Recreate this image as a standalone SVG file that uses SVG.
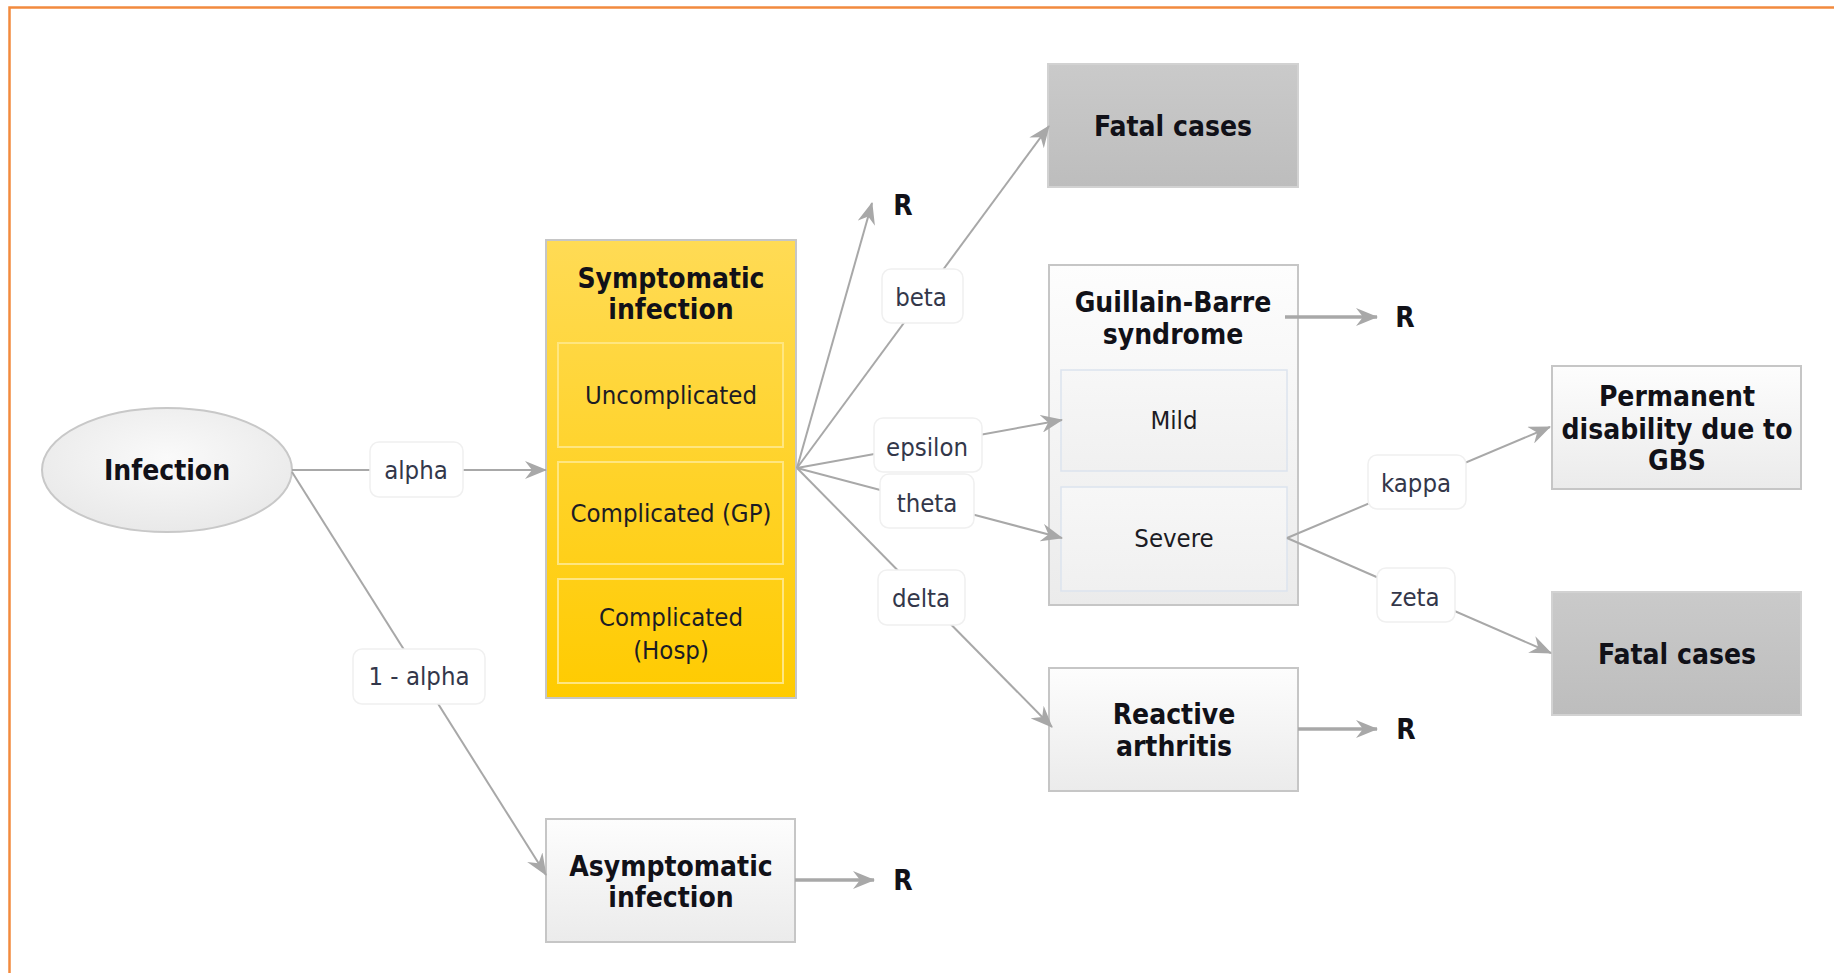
<svg xmlns="http://www.w3.org/2000/svg" width="1834" height="973" viewBox="0 0 1834 973">
  <defs>
    <linearGradient id="gYellow" x1="0" y1="0" x2="0" y2="1">
      <stop offset="0" stop-color="#FFDB55"/>
      <stop offset="1" stop-color="#FFCB00"/>
    </linearGradient>
    <linearGradient id="gLight" x1="0" y1="0" x2="0" y2="1">
      <stop offset="0" stop-color="#FDFDFD"/>
      <stop offset="1" stop-color="#EBEBEB"/>
    </linearGradient>
    <linearGradient id="gInner" x1="0" y1="0" x2="0" y2="1">
      <stop offset="0" stop-color="#F7F7F7"/>
      <stop offset="1" stop-color="#F0F0F0"/>
    </linearGradient>
    <linearGradient id="gDark" x1="0" y1="0" x2="0" y2="1">
      <stop offset="0" stop-color="#CACACA"/>
      <stop offset="1" stop-color="#BDBDBD"/>
    </linearGradient>
    <radialGradient id="gEllipse" cx="0.5" cy="0.4" r="0.6">
      <stop offset="0" stop-color="#FAFAFA"/>
      <stop offset="1" stop-color="#E9E9E9"/>
    </radialGradient>
    <marker id="arrow" viewBox="0 0 22 18" markerUnits="userSpaceOnUse" markerWidth="22" markerHeight="18" refX="21" refY="9" orient="auto">
      <path d="M0,0 L22,9 L0,18 L7,9 z" fill="#A8A8A8"/>
    </marker>
  </defs>
  <style>
    text { font-family: "DejaVu Sans Condensed", "DejaVu Sans", sans-serif; font-stretch: condensed; text-anchor: middle; }
    .title { font-size: 28px; font-weight: bold; fill: #111118; }
    .sub { font-size: 25.5px; fill: #1c1c24; }
    .lbl { font-size: 25.5px; fill: #33374a; }
    .box { stroke: #C6C6C6; stroke-width: 2; }
    .inY { fill: none; stroke: #FFE680; stroke-width: 2; }
    .inG { fill: url(#gInner); stroke: #DCE3EE; stroke-width: 1.5; }
    .lblbox { fill: #FFFFFF; stroke: #F0F0F0; stroke-width: 1.5; }
    .edge { fill: none; stroke: #A8A8A8; stroke-width: 2; }
    .edgeR { fill: none; stroke: #A8A8A8; stroke-width: 3.5; }
  </style>

  <rect width="1834" height="973" fill="#FFFFFF"/>
  <!-- frame -->
  <path d="M9.5,990 L9.5,7.5 L1850,7.5" fill="none" stroke="#F28A3E" stroke-width="2.5"/>

  <g id="infection">
    <ellipse cx="167" cy="470" rx="125" ry="62" fill="url(#gEllipse)" stroke="#C8C8C8" stroke-width="2"/>
    <text class="title" x="167" y="480">Infection</text>
  </g>

  <g id="symptomatic">
    <rect class="box" x="546" y="240" width="250" height="458" fill="url(#gYellow)"/>
    <text class="title" x="671" y="288">Symptomatic</text>
    <text class="title" x="671" y="319">infection</text>
    <rect class="inY" x="558" y="343" width="225" height="104"/>
    <text class="sub" x="671" y="404">Uncomplicated</text>
    <rect class="inY" x="558" y="462" width="225" height="102"/>
    <text class="sub" x="671" y="522">Complicated (GP)</text>
    <rect class="inY" x="558" y="579" width="225" height="104"/>
    <text class="sub" x="671" y="626">Complicated</text>
    <text class="sub" x="671" y="659">(Hosp)</text>
  </g>

  <g id="asymptomatic">
    <rect class="box" x="546" y="819" width="249" height="123" fill="url(#gLight)"/>
    <text class="title" x="671" y="876">Asymptomatic</text>
    <text class="title" x="671" y="907">infection</text>
  </g>

  <g id="r-asymptomatic">
    <text class="title" x="903" y="890">R</text>
  </g>

  <g id="r-symptomatic">
    <text class="title" x="903" y="215">R</text>
  </g>

  <g id="fatal-top">
    <rect x="1048" y="64" width="250" height="123" fill="url(#gDark)" stroke="#D2D2D2" stroke-width="2"/>
    <text class="title" x="1173" y="136">Fatal cases</text>
  </g>

  <g id="gbs">
    <rect class="box" x="1049" y="265" width="249" height="340" fill="url(#gLight)"/>
    <text class="title" x="1173" y="312">Guillain-Barre</text>
    <text class="title" x="1173" y="344">syndrome</text>
    <rect class="inG" x="1061" y="370" width="226" height="101"/>
    <text class="sub" x="1174" y="429">Mild</text>
    <rect class="inG" x="1061" y="487" width="226" height="104"/>
    <text class="sub" x="1174" y="547">Severe</text>
  </g>

  <g id="r-gbs">
    <text class="title" x="1405" y="327">R</text>
  </g>

  <g id="permanent-disability">
    <rect class="box" x="1552" y="366" width="249" height="123" fill="url(#gLight)"/>
    <text class="title" x="1677" y="406">Permanent</text>
    <text class="title" x="1677" y="439">disability due to</text>
    <text class="title" x="1677" y="470">GBS</text>
  </g>

  <g id="fatal-bottom">
    <rect x="1552" y="592" width="249" height="123" fill="url(#gDark)" stroke="#D2D2D2" stroke-width="2"/>
    <text class="title" x="1677" y="664">Fatal cases</text>
  </g>

  <g id="reactive-arthritis">
    <rect class="box" x="1049" y="668" width="249" height="123" fill="url(#gLight)"/>
    <text class="title" x="1174" y="724">Reactive</text>
    <text class="title" x="1174" y="756">arthritis</text>
  </g>

  <g id="r-reactive">
    <text class="title" x="1406" y="739">R</text>
  </g>

  <!-- connectors, drawn over the nodes -->
  <g id="connectors">
    <line class="edge" x1="292" y1="470" x2="546" y2="470" marker-end="url(#arrow)"/>
    <line class="edge" x1="292" y1="472" x2="546" y2="875" marker-end="url(#arrow)"/>
    <line class="edge" x1="797" y1="468" x2="872" y2="203" marker-end="url(#arrow)"/>
    <line class="edge" x1="797" y1="468" x2="1049" y2="126" marker-end="url(#arrow)"/>
    <line class="edge" x1="797" y1="468" x2="1062" y2="420" marker-end="url(#arrow)"/>
    <line class="edge" x1="797" y1="468" x2="1062" y2="538" marker-end="url(#arrow)"/>
    <line class="edge" x1="797" y1="468" x2="1052" y2="727" marker-end="url(#arrow)"/>
    <line class="edge" x1="1287" y1="538" x2="1550" y2="427" marker-end="url(#arrow)"/>
    <line class="edge" x1="1287" y1="538" x2="1551" y2="653" marker-end="url(#arrow)"/>
    <line class="edgeR" x1="795" y1="880" x2="874" y2="880" marker-end="url(#arrow)"/>
    <line class="edgeR" x1="1285" y1="317" x2="1377" y2="317" marker-end="url(#arrow)"/>
    <line class="edgeR" x1="1298" y1="729" x2="1377" y2="729" marker-end="url(#arrow)"/>

    <g id="edge-labels">
      <rect class="lblbox" x="370" y="442" width="93" height="55" rx="9"/>
      <text class="lbl" x="416" y="479">alpha</text>
      <rect class="lblbox" x="353" y="649" width="132" height="55" rx="9"/>
      <text class="lbl" x="419" y="685">1 - alpha</text>
      <rect class="lblbox" x="882" y="269" width="81" height="54" rx="9"/>
      <text class="lbl" x="921" y="306">beta</text>
      <rect class="lblbox" x="874" y="418" width="108" height="54" rx="9"/>
      <text class="lbl" x="927" y="456">epsilon</text>
      <rect class="lblbox" x="880" y="474" width="94" height="54" rx="9"/>
      <text class="lbl" x="927" y="512">theta</text>
      <rect class="lblbox" x="878" y="570" width="87" height="55" rx="9"/>
      <text class="lbl" x="921" y="607">delta</text>
      <rect class="lblbox" x="1368" y="455" width="98" height="54" rx="9"/>
      <text class="lbl" x="1416" y="492">kappa</text>
      <rect class="lblbox" x="1377" y="568" width="78" height="54" rx="9"/>
      <text class="lbl" x="1415" y="606">zeta</text>
    </g>
  </g>
</svg>
